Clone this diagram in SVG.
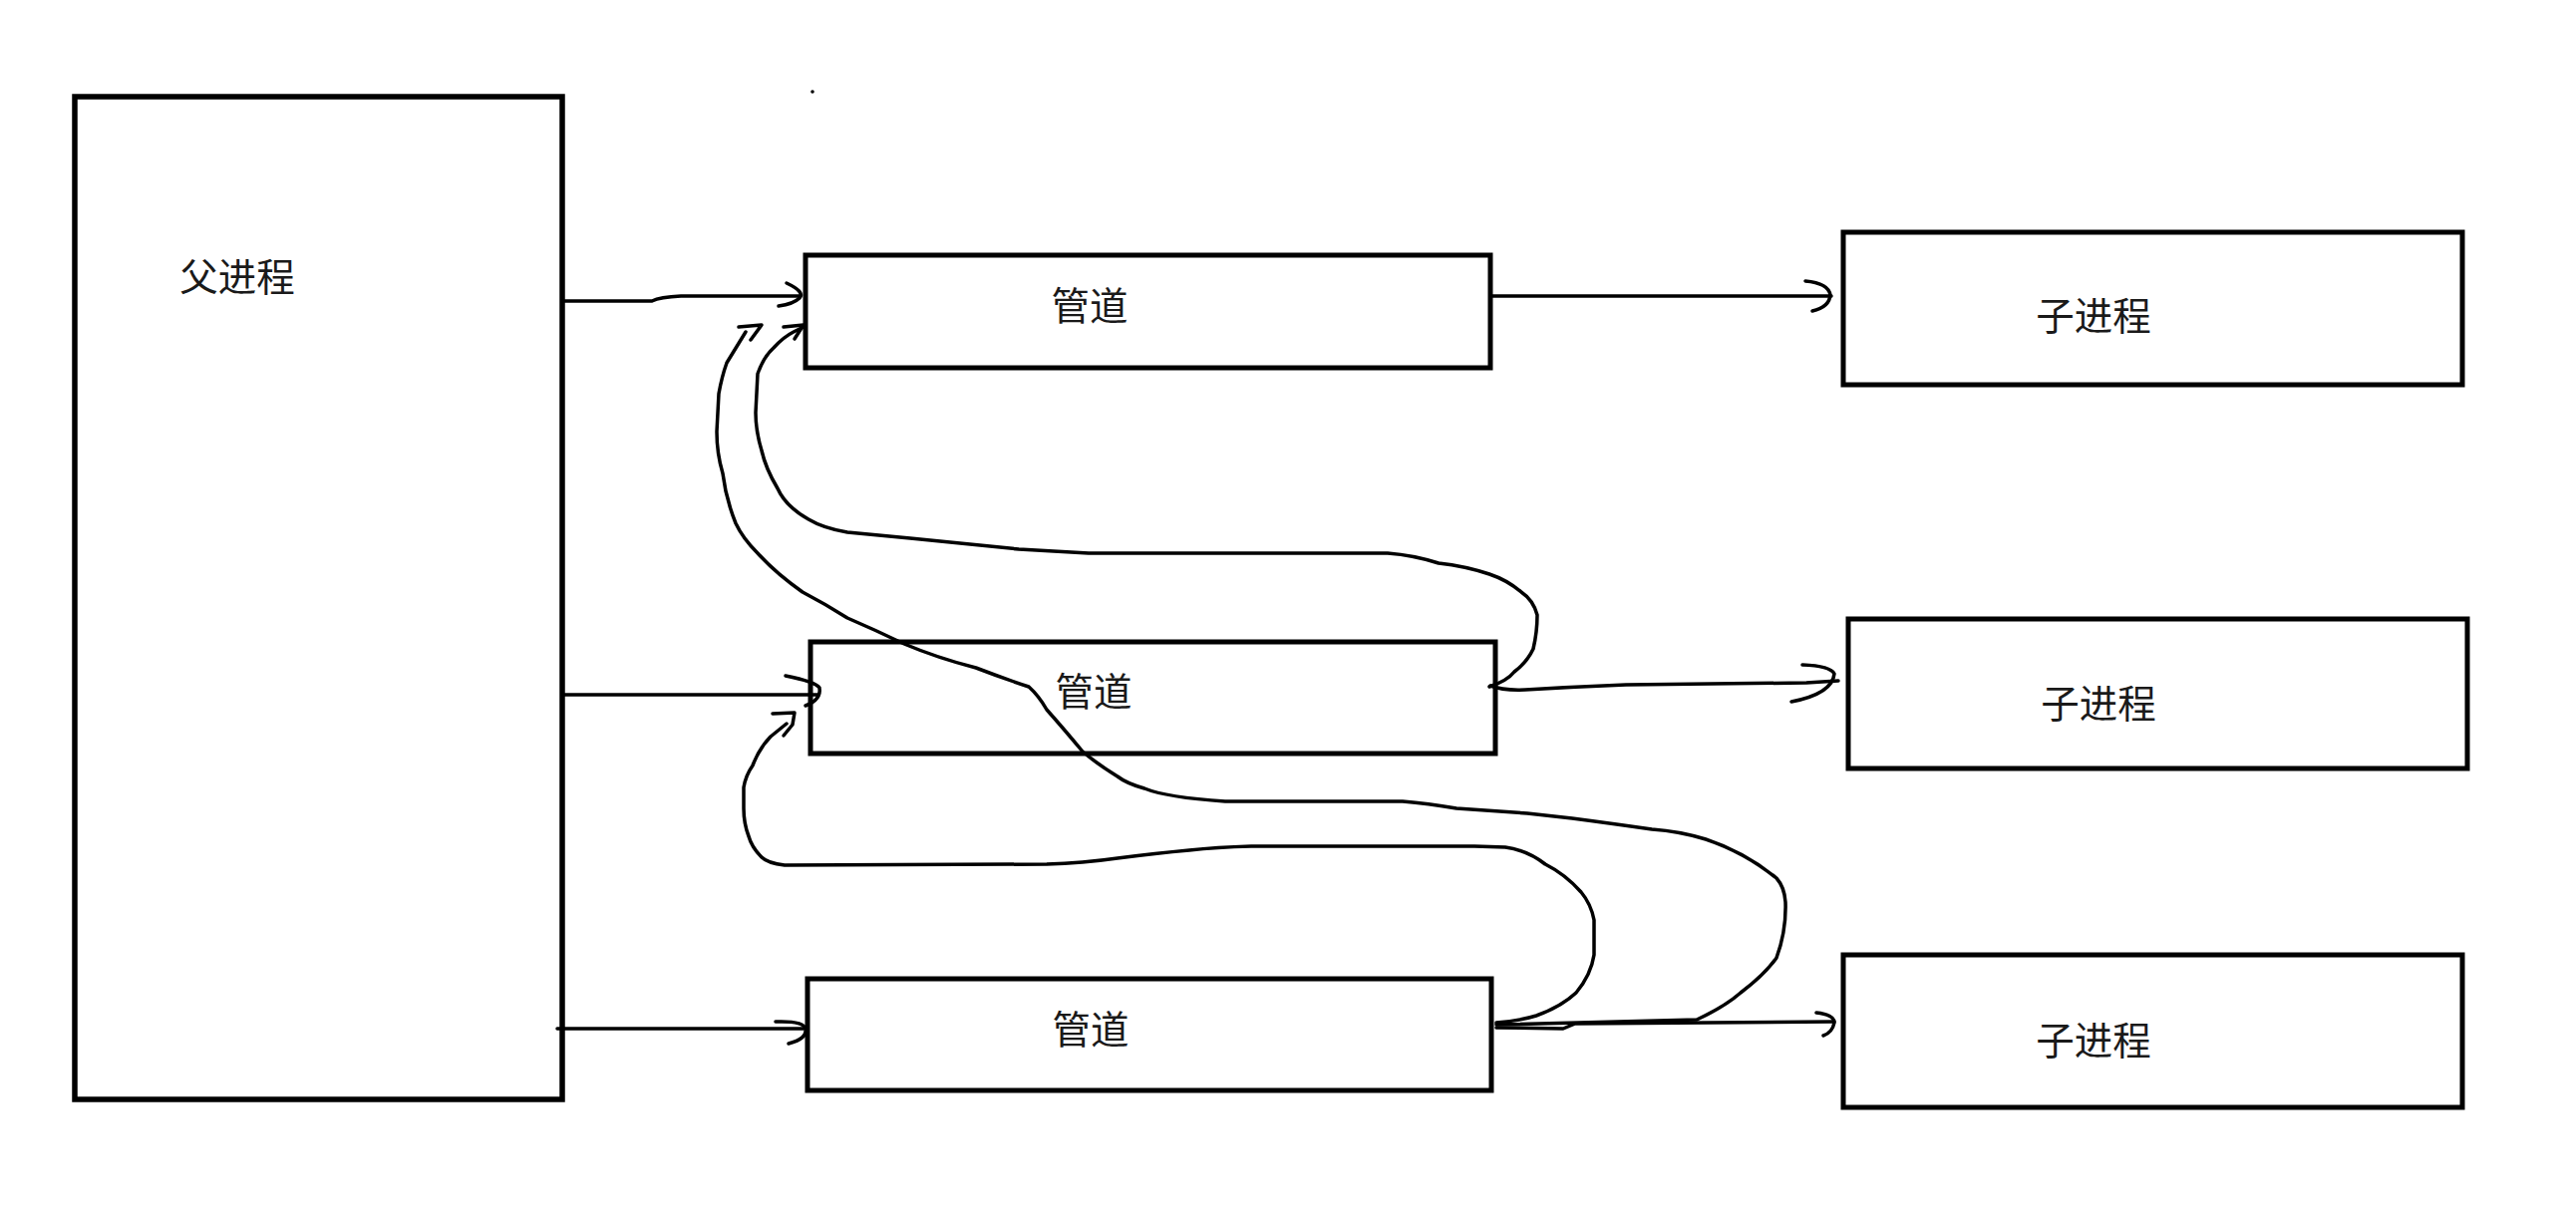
<svg xmlns="http://www.w3.org/2000/svg" width="2584" height="1225" viewBox="0 0 2584 1225">
<style>
.box{fill:#fff;stroke:#000;stroke-width:5}
.lbl{font-family:"Noto Sans CJK SC","Noto Sans",sans-serif;font-size:38.5px;fill:#1a1a1a;text-anchor:middle;dominant-baseline:central}
.c{fill:none;stroke:#000;stroke-width:3.5;stroke-linecap:round;stroke-linejoin:round}
</style>
<rect width="2584" height="1225" fill="#fff"/>
<circle cx="815" cy="92" r="1.8" fill="#000"/>
<g id="parent"><rect class="box" x="75" y="97" width="489" height="1006" style="stroke-width:5.5"/><text class="lbl" x="238" y="275">父进程</text></g>
<g id="pipe1"><rect class="box" x="808" y="256" width="687" height="113"/><text class="lbl" x="1093" y="304">管道</text></g>
<g id="pipe2"><rect class="box" x="813" y="644" width="687" height="112"/><text class="lbl" x="1097" y="691">管道</text></g>
<g id="pipe3"><rect class="box" x="810" y="982" width="686" height="112"/><text class="lbl" x="1094" y="1030">管道</text></g>
<g id="child1"><rect class="box" x="1849" y="233" width="621" height="153"/><text class="lbl" x="2100" y="314">子进程</text></g>
<g id="child2"><rect class="box" x="1854" y="621" width="621" height="150"/><text class="lbl" x="2105" y="703">子进程</text></g>
<g id="child3"><rect class="box" x="1849" y="958" width="621" height="153"/><text class="lbl" x="2100" y="1041">子进程</text></g>
<g id="connectors">
<path class="c" d="M564,302 L654,302 Q662,298 683,297 L802,297"/>
<path class="c" d="M789,284 Q808,293 802,299 Q796,305 781,307"/>
<path class="c" d="M1495,297 L1837,297"/>
<path class="c" d="M1811,282 Q1834,284 1836,296 Q1835,308 1818,312"/>
<path class="c" d="M565,697 L821,697"/>
<path class="c" d="M788,678 Q818,684 822,690 Q824,702 808,708"/>
<path class="c" d="M1495,688 Q1508,693 1530,692 Q1580,689 1631,687 L1812,685 L1844,683"/>
<path class="c" d="M1808,667 Q1836,668 1840,676 Q1838,696 1797,704"/>
<path class="c" d="M559,1032 L806,1032"/>
<path class="c" d="M778,1025 Q806,1024 808,1032 Q810,1042 791,1047"/>
<path class="c" d="M1501,1031 L1568,1032 L1580,1027 L1840,1025"/>
<path class="c" d="M1822,1016 Q1840,1018 1840,1026 Q1838,1036 1829,1039"/>
<path class="c" d="M1494,689 Q1512,683 1519,674 Q1532,664 1538,651 Q1542,634 1542,617 Q1538,602 1526,594 Q1512,582 1494,576 Q1470,568 1443,565 Q1418,557 1392,555 L1092,555 L1022,551 L913,540 L850,534 Q826,530 811,521 Q788,508 780,490 Q768,470 764,452 Q758,432 758,414 L760,375 Q766,358 776,349 Q786,338 796,333 L806,328"/>
<path class="c" d="M786,328 L806,326 L797,340"/>
<path class="c" d="M1501,1028 L1702,1023 Q1730,1010 1746,996 Q1770,978 1782,961 Q1792,934 1791,905 Q1790,890 1782,881 Q1750,855 1711,842 Q1685,834 1657,832 Q1615,826 1577,821 L1532,816 L1461,811 Q1432,806 1407,804 L1229,804 Q1170,800 1148,791 Q1130,786 1121,779 Q1100,766 1086,754 Q1066,730 1050,712 Q1042,698 1032,689 Q1005,680 979,670 Q940,660 907,646 Q878,632 850,620 Q828,606 805,594 Q778,575 760,555 Q745,540 738,525 Q728,500 725,475 Q719,455 719,433 L721,395 Q724,378 729,364 L748,333"/>
<path class="c" d="M741,328 L764,326 L753,341"/>
<path class="c" d="M1501,1026 Q1525,1024 1541,1019 Q1566,1010 1581,996 Q1596,978 1599,958 L1599,923 Q1596,907 1586,895 Q1570,877 1550,867 Q1532,853 1510,850 L1479,849 L1255,849 Q1220,850 1193,853 Q1160,856 1121,861 Q1086,866 1050,867 L787,868 Q770,866 764,860 Q754,850 751,839 Q746,826 746,811 L746,790 Q748,778 755,768 Q762,750 773,739 L789,726"/>
<path class="c" d="M775,716 L797,715 L795,727 L786,738"/>
</g>
</svg>
